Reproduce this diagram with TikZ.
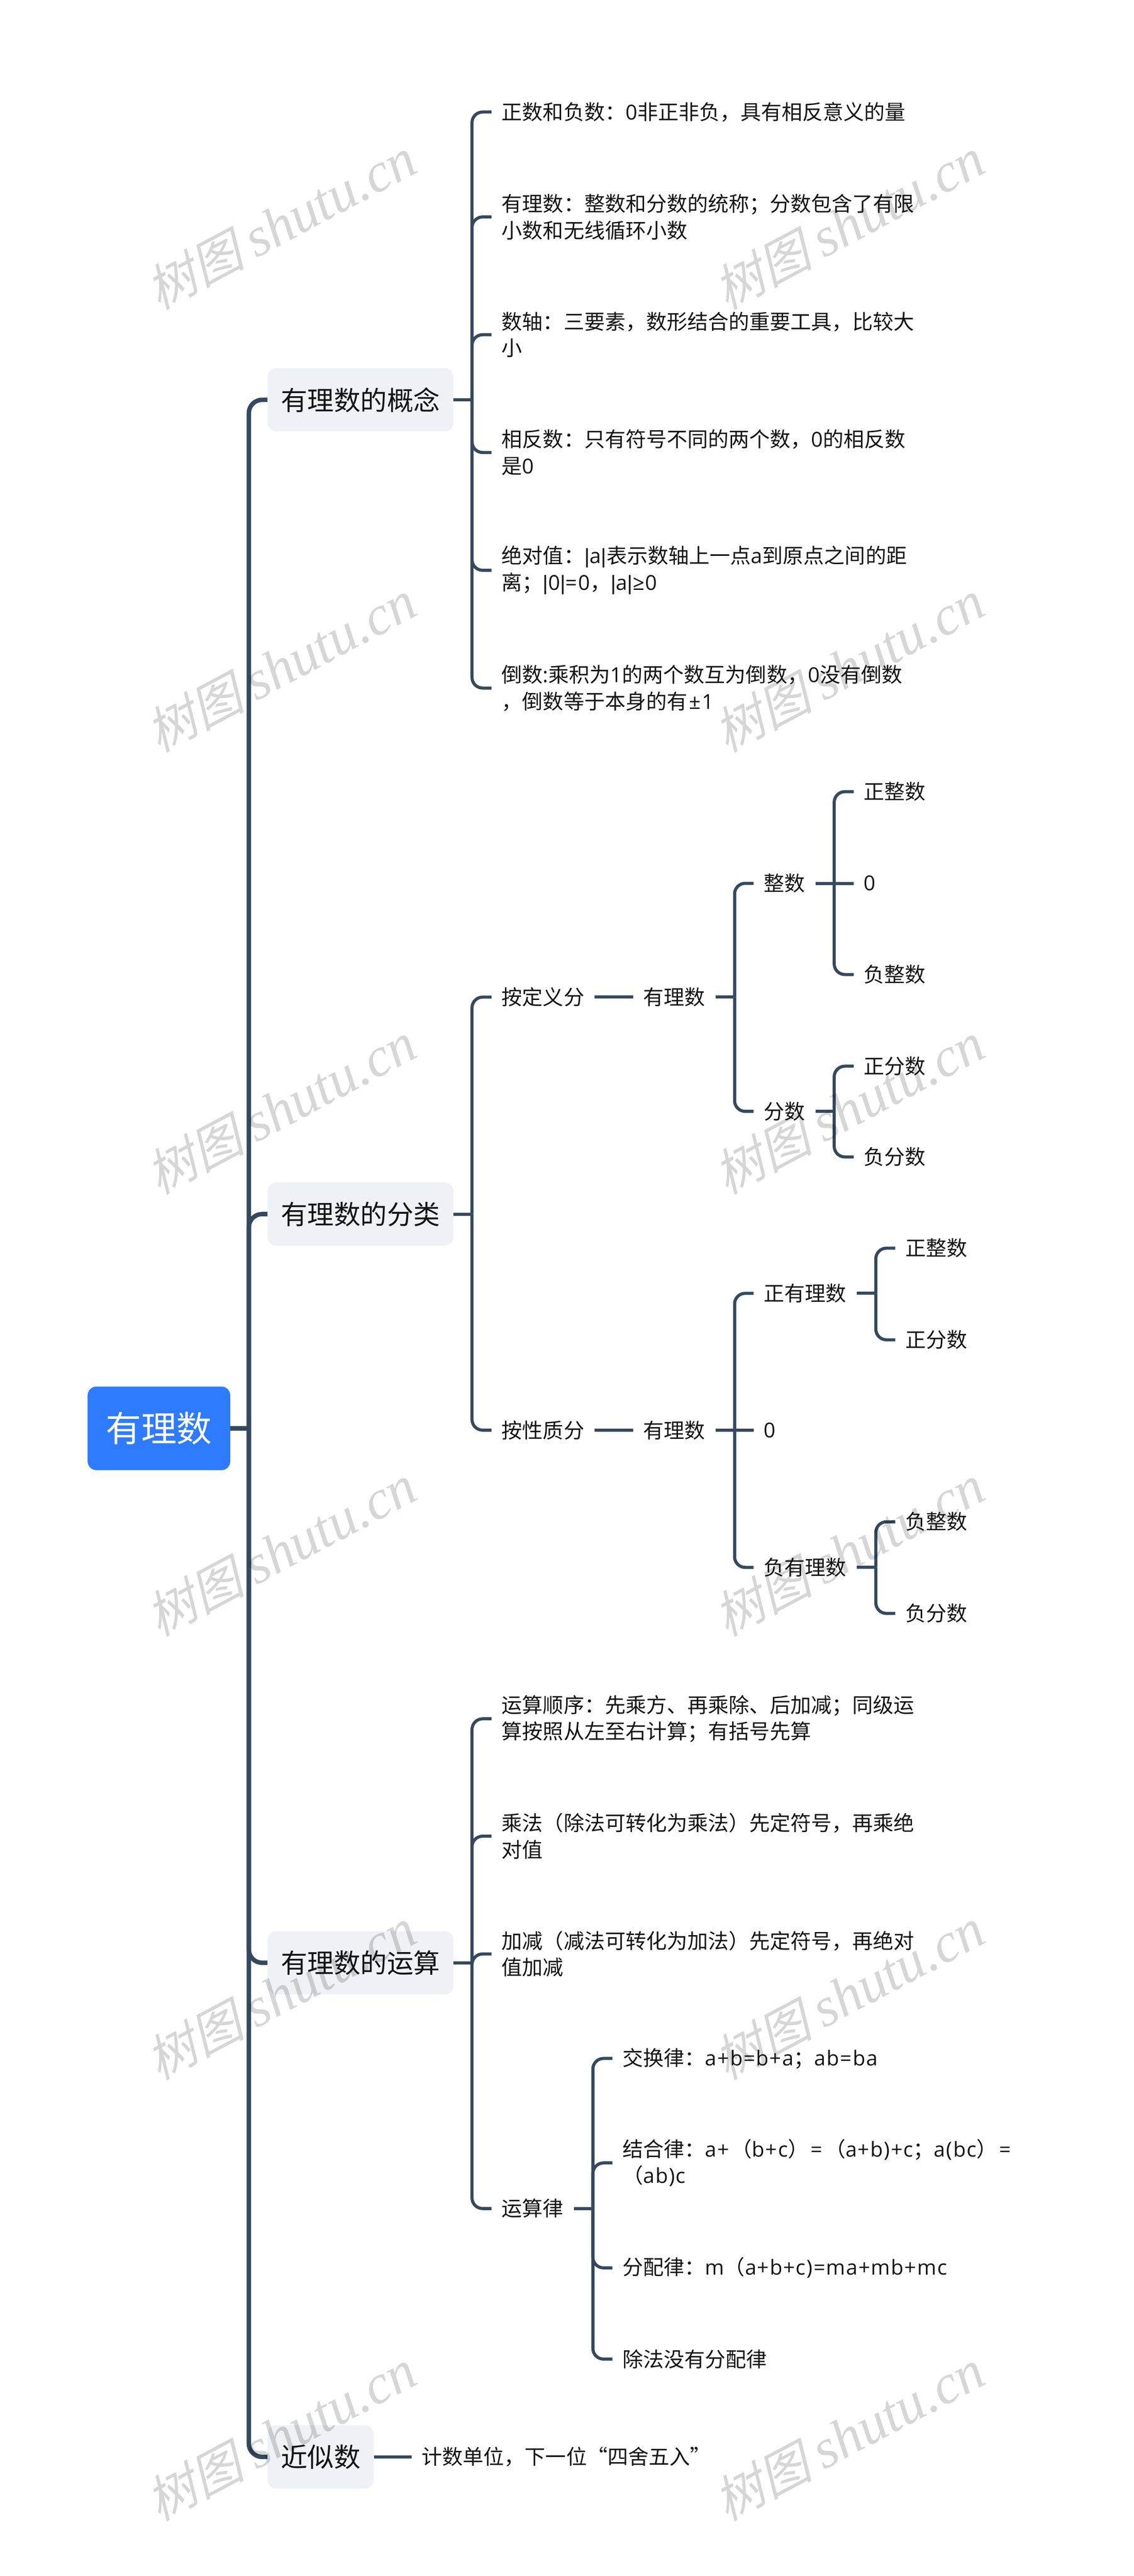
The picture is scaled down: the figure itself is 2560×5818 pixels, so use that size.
\documentclass[tikz,border=0pt]{standalone}
\usepackage{fontspec}
\setmainfont{Noto Sans CJK SC}
\newfontfamily\la[LetterSpace=4]{Open Sans}
\newfontfamily\lb{Liberation Sans}
\newfontfamily\markcjk[FakeSlant=0.25]{Noto Sans CJK SC}
\newfontfamily\marklatin{Liberation Serif}
\usetikzlibrary{positioning}

\definecolor{linecol}{HTML}{34495E}
\definecolor{rootcol}{HTML}{2E7BFF}
\definecolor{topiccol}{HTML}{EEF2F6}

\newcommand{\wmtext}{{\markcjk 树图} {\marklatin\itshape\fontsize{125pt}{130pt}\selectfont shutu.cn}}
\newcommand{\vb}{{\lb|}}

\tikzset{
  rootnode/.style={fill=rootcol,text=white,rounded corners=20pt,minimum width=322pt,minimum height=189pt,inner sep=0pt,font=\fontsize{80pt}{96pt}\selectfont},
  topic/.style={fill=topiccol,text=black!92,rounded corners=20pt,anchor=west,minimum height=143pt,inner xsep=30pt,inner ysep=0pt,font=\fontsize{60pt}{72pt}\selectfont},
  leaf/.style={text=black!92,anchor=west,align=left,inner xsep=23pt,inner ysep=0pt,font=\fontsize{46.6pt}{60pt}\selectfont},
  trunk/.style={draw=linecol,line width=10pt,rounded corners=30pt},
  branch/.style={draw=linecol,line width=7pt,rounded corners=24pt},
  wmark/.style={rotate=28,text=black,text opacity=0.16,inner sep=0pt,font=\fontsize{112pt}{130pt}\selectfont},
}

\begin{document}
\begin{tikzpicture}[x=1pt,y=-1pt]
\useasboundingbox (0,0) rectangle (2560,5818);

% root and topics
\node[rootnode] (root) at (359,3226) {有理数};
\node[topic] (t1) at (604,903) {有理数的概念};
\node[topic] (t2) at (604,2742) {有理数的分类};
\node[topic] (t3) at (604,4433) {有理数的运算};
\node[topic] (t4) at (604,5549) {近似数};

% first topic
\node[leaf] (c1) at (1110,253) {正数和负数：{\la 0}非正非负，具有相反意义的量};
\node[leaf] (c2) at (1110,490) {有理数：整数和分数的统称；分数包含了有限\\小数和无线循环小数};
\node[leaf] (c3) at (1110,756) {数轴：三要素，数形结合的重要工具，比较大\\小};
\node[leaf] (c4) at (1110,1022) {相反数：只有符号不同的两个数，{\la 0}的相反数\\是{\la 0}};
\node[leaf] (c5) at (1110,1288) {绝对值：\vb{\la a}\vb 表示数轴上一点{\la a}到原点之间的距\\离；\vb{\la 0}\vb{\la =0}，\vb{\la a}\vb{\la ≥0}};
\node[leaf] (c6) at (1110,1554) {倒数{\la :}乘积为{\la 1}的两个数互为倒数，{\la 0}没有倒数\\，倒数等于本身的有\hspace{4pt}{\la ±1}};

% second topic
\node[leaf] (d1) at (1110,2252) {按定义分};
\node[leaf,right=87pt of d1] (d2) {有理数};
\node[leaf] (d3) at (1702,1995) {整数};
\node[leaf] (d4) at (1702,2510) {分数};
\node[leaf] (d5) at (1928,1788) {正整数};
\node[leaf] (d6) at (1928,1995) {\la 0};
\node[leaf] (d7) at (1928,2201) {负整数};
\node[leaf] (d8) at (1928,2408) {正分数};
\node[leaf] (d9) at (1928,2613) {负分数};
\node[leaf] (e1) at (1110,3230) {按性质分};
\node[leaf,right=87pt of e1] (e2) {有理数};
\node[leaf] (e3) at (1702,2921) {正有理数};
\node[leaf] (e4) at (1702,3230) {\la 0};
\node[leaf] (e5) at (1702,3540) {负有理数};
\node[leaf] (e6) at (2022,2819) {正整数};
\node[leaf] (e7) at (2022,3026) {正分数};
\node[leaf] (e8) at (2022,3437) {负整数};
\node[leaf] (e9) at (2022,3644) {负分数};

% third topic
\node[leaf] (g1) at (1110,3882) {运算顺序：先乘方、再乘除、后加减；同级运\\算按照从左至右计算；有括号先算};
\node[leaf] (g2) at (1110,4147) {乘法（除法可转化为乘法）先定符号，再乘绝\\对值};
\node[leaf] (g3) at (1110,4413) {加减（减法可转化为加法）先定符号，再绝对\\值加减};
\node[leaf] (g4) at (1110,4988) {运算律};
\node[leaf] (h1) at (1383,4649) {交换律：{\la a+b=b+a}；{\la ab=ba}};
\node[leaf] (h2) at (1383,4885) {结合律：{\la a+}\hspace{5pt}（{\la b+c}）\hspace{5pt}{\la =}\hspace{5pt}（{\la a+b)+c}；{\la a(bc}）\hspace{5pt}{\la =}\\（{\la ab)c}};
\node[leaf] (h3) at (1383,5122) {分配律：{\la m}（{\la a+b+c)=ma+mb+mc}};
\node[leaf] (h4) at (1383,5328) {除法没有分配律};

% fourth topic
\node[leaf,right=85pt of t4] (k1) {计数单位，下一位“四舍五入”};

% forks
\coordinate (ft) at (562,3226);
\coordinate (f1) at (1066,903);
\coordinate (f2) at (1066,2742);
\coordinate (f3) at (1066,4433);
\coordinate (f4) at (1659,2252);
\coordinate (f5) at (1884,1995);
\coordinate (f6) at (1884,2510);
\coordinate (f7) at (1659,3230);
\coordinate (f8) at (1978,2921);
\coordinate (f9) at (1978,3540);
\coordinate (f10) at (1339,4988);

% connectors
\draw[trunk] (root.east) -- (ft);
\draw[trunk] (ft) |- (t1.west);
\draw[trunk] (ft) |- (t2.west);
\draw[trunk] (ft) |- (t3.west);
\draw[trunk] (ft) |- (t4.west);

\draw[branch] (t1.east) -- (f1);
\draw[branch] (f1) |- (c1.west);
\draw[branch] (f1) |- (c2.west);
\draw[branch] (f1) |- (c3.west);
\draw[branch] (f1) |- (c4.west);
\draw[branch] (f1) |- (c5.west);
\draw[branch] (f1) |- (c6.west);

\draw[branch] (t2.east) -- (f2);
\draw[branch] (f2) |- (d1.west);
\draw[branch] (f2) |- (e1.west);
\draw[branch] (d1.east) -- (d2.west);
\draw[branch] (d2.east) -- (f4);
\draw[branch] (f4) |- (d3.west);
\draw[branch] (f4) |- (d4.west);
\draw[branch] (d3.east) -- (f5);
\draw[branch] (f5) |- (d5.west);
\draw[branch] (f5) -- (d6.west);
\draw[branch] (f5) |- (d7.west);
\draw[branch] (d4.east) -- (f6);
\draw[branch] (f6) |- (d8.west);
\draw[branch] (f6) |- (d9.west);
\draw[branch] (e1.east) -- (e2.west);
\draw[branch] (e2.east) -- (f7);
\draw[branch] (f7) |- (e3.west);
\draw[branch] (f7) -- (e4.west);
\draw[branch] (f7) |- (e5.west);
\draw[branch] (e3.east) -- (f8);
\draw[branch] (f8) |- (e6.west);
\draw[branch] (f8) |- (e7.west);
\draw[branch] (e5.east) -- (f9);
\draw[branch] (f9) |- (e8.west);
\draw[branch] (f9) |- (e9.west);

\draw[branch] (t3.east) -- (f3);
\draw[branch] (f3) |- (g1.west);
\draw[branch] (f3) |- (g2.west);
\draw[branch] (f3) |- (g3.west);
\draw[branch] (f3) |- (g4.west);
\draw[branch] (g4.east) -- (f10);
\draw[branch] (f10) |- (h1.west);
\draw[branch] (f10) |- (h2.west);
\draw[branch] (f10) |- (h3.west);
\draw[branch] (f10) |- (h4.west);

\draw[branch] (t4.east) -- (k1.west);

% watermarks
\node[wmark] (w1) at (634,506) {\wmtext};
\node[wmark] (w2) at (1917,506) {\wmtext};
\node[wmark] (w3) at (634,1506) {\wmtext};
\node[wmark] (w4) at (1917,1506) {\wmtext};
\node[wmark] (w5) at (634,2504) {\wmtext};
\node[wmark] (w6) at (1917,2504) {\wmtext};
\node[wmark] (w7) at (634,3503) {\wmtext};
\node[wmark] (w8) at (1917,3503) {\wmtext};
\node[wmark] (w9) at (634,4504) {\wmtext};
\node[wmark] (w10) at (1917,4504) {\wmtext};
\node[wmark] (w11) at (634,5501) {\wmtext};
\node[wmark] (w12) at (1917,5501) {\wmtext};
\end{tikzpicture}
\end{document}
